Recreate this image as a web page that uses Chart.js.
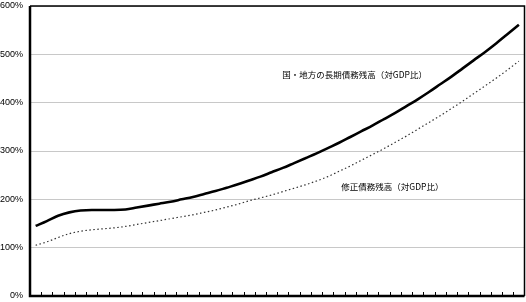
<!DOCTYPE html>
<html>
<head>
<meta charset="utf-8">
<script src="https://cdn.jsdelivr.net/npm/chart.js@4"></script>
<style>
  html, body { margin: 0; padding: 0; background: #fff; }
  #wrap { width: 526px; height: 302px; }
</style>
</head>
<body>
<div id="wrap"><canvas id="debtChart" width="526" height="302"></canvas></div>
<script>
// 44 periods, no labels shown on the axis
const periods = Array.from({ length: 44 }, (_, i) => String(i + 1));

// 国・地方の長期債務残高（対GDP比）, %
const longTermDebt = [
  145, 155, 166, 173, 177, 178, 178, 178, 179, 183,
  187, 191, 195, 200, 205, 211, 217, 224, 231, 239,
  247, 256, 265, 275, 285, 295, 306, 317, 329, 341,
  353, 366, 379, 393, 407, 422, 438, 454, 471, 488,
  505, 523, 542, 561,
];

// 修正債務残高（対GDP比）, %
const adjustedDebt = [
  105, 112, 121, 129, 134, 137, 139, 141, 144, 148,
  152, 156, 160, 164, 168, 173, 178, 184, 190, 197,
  203, 209, 216, 223, 230, 238, 247, 258, 269, 281,
  293, 305, 318, 331, 345, 359, 373, 388, 403, 419,
  435, 451, 468, 486,
];

const yTicks = [0, 100, 200, 300, 400, 500, 600];
const seriesNames = ["国・地方の長期債務残高（対GDP比）", "修正債務残高（対GDP比）"];

// frame, inner tick marks and the two series captions
const framePlugin = {
  id: "frame",
  afterDatasetsDraw(chart) {
    const { ctx, chartArea: a, scales } = chart;
    const x = scales.x, y = scales.y;
    ctx.save();
    ctx.strokeStyle = "#000";

    // tick marks between categories, pointing up into the plot
    ctx.lineWidth = 1;
    ctx.beginPath();
    for (let i = 0; i < periods.length - 1; i++) {
      const px = Math.round((x.getPixelForValue(i) + x.getPixelForValue(i + 1)) / 2) + 0.5;
      ctx.moveTo(px, a.bottom);
      ctx.lineTo(px, a.bottom - 4);
    }
    ctx.stroke();

    // thin top / right
    ctx.lineWidth = 1.5;
    ctx.beginPath();
    ctx.moveTo(a.left, a.top);
    ctx.lineTo(a.right, a.top);
    ctx.lineTo(a.right, a.bottom);
    ctx.stroke();

    // heavy left / bottom axes
    ctx.lineWidth = 2.5;
    ctx.beginPath();
    ctx.moveTo(a.left, a.top);
    ctx.lineTo(a.left, a.bottom);
    ctx.lineTo(a.right, a.bottom);
    ctx.stroke();

    // captions
    const labels = chart.options.plugins.frame.labels;
    ctx.fillStyle = "#000";
    ctx.font = '8.5px "Noto Sans CJK JP"';
    ctx.textAlign = "left";
    ctx.textBaseline = "middle";
    labels.forEach((l) => {
      ctx.fillText(l.text, x.getPixelForValue(l.at), y.getPixelForValue(l.value));
    });
    ctx.restore();
  },
};

new Chart(document.getElementById("debtChart"), {
  type: "line",
  data: {
    labels: periods,
    datasets: [
      {
        label: seriesNames[0],
        data: longTermDebt,
        borderColor: "#000",
        borderWidth: 2.6,
        pointRadius: 0,
        cubicInterpolationMode: "monotone",
      },
      {
        label: seriesNames[1],
        data: adjustedDebt,
        borderColor: "#333",
        borderWidth: 1.2,
        borderDash: [1.5, 2.5],
        pointRadius: 0,
        cubicInterpolationMode: "monotone",
      },
    ],
  },
  options: {
    responsive: false,
    animation: false,
    layout: { padding: { top: 6, right: 1.5, bottom: 6, left: 0 } },
    plugins: {
      legend: { display: false },
      tooltip: { enabled: false },
      frame: {
        labels: [
          { text: seriesNames[0], at: 21.95, value: 457 },
          { text: seriesNames[1], at: 27.2, value: 226 },
        ],
      },
    },
    scales: {
      x: {
        type: "category",
        offset: true,
        display: false,
      },
      y: {
        min: 0,
        max: 600,
        afterBuildTicks: (s) => { s.ticks = yTicks.map((v) => ({ value: v })); },
        afterFit: (s) => { s.width = 30; s.paddingTop = 0; s.paddingBottom = 0; },
        border: { display: false },
        grid: { color: "#c8c8c8", lineWidth: 1, drawTicks: false },
        ticks: {
          padding: 7,
          color: "#000",
          font: { family: '"Liberation Sans", Arial', size: 9, lineHeight: 1 },
          callback: (v) => v + "%",
        },
      },
    },
  },
  plugins: [framePlugin],
});
</script>
</body>
</html>
